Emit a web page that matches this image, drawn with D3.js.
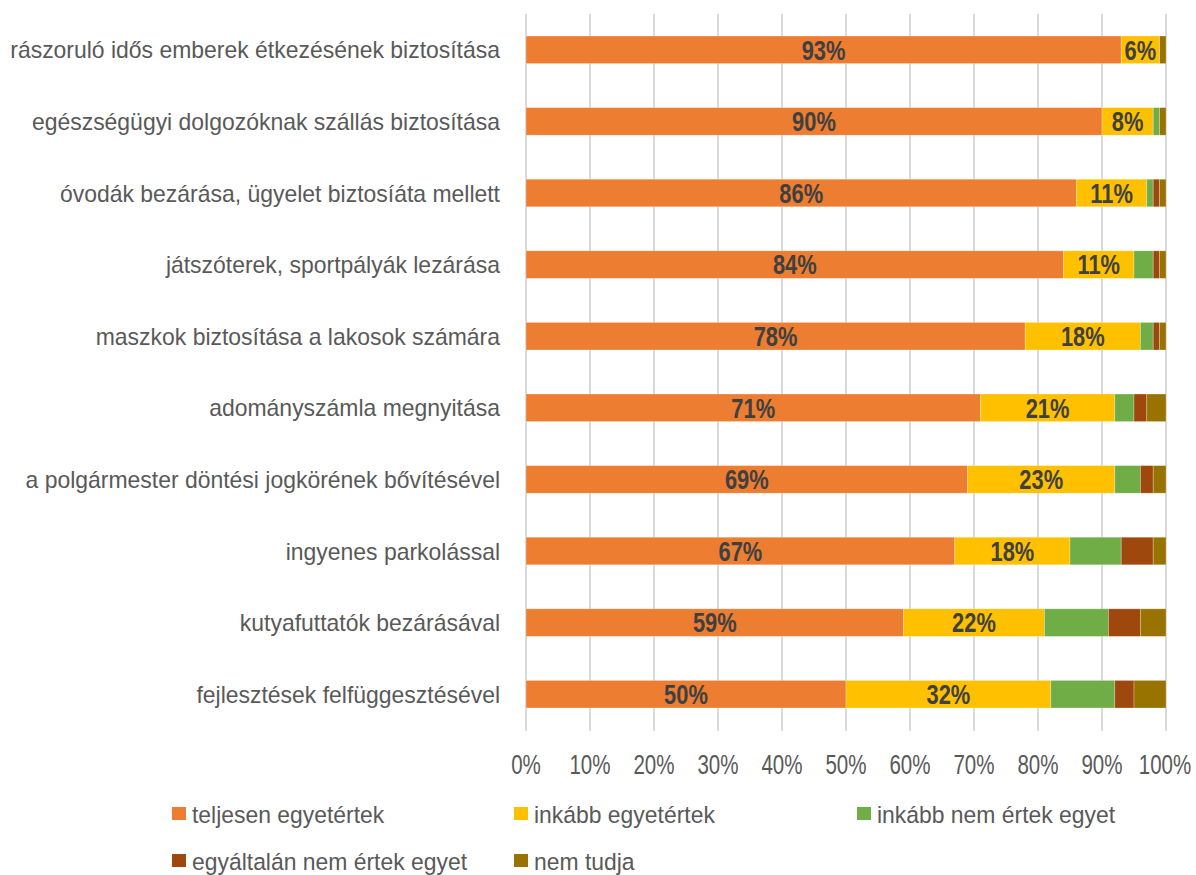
<!DOCTYPE html>
<html>
<head>
<meta charset="utf-8">
<script src="https://cdn.jsdelivr.net/npm/d3@7"></script>
<style>
  body { margin: 0; background: #fff; }
  svg text { font-family: "Liberation Sans", Arial, sans-serif; }
</style>
</head>
<body>
<div id="chart"></div>
<script>
// ---------- data ----------
const categories = [
  'rászoruló idős emberek étkezésének biztosítása',
  'egészségügyi dolgozóknak szállás biztosítása',
  'óvodák bezárása, ügyelet biztosíáta mellett',
  'játszóterek, sportpályák lezárása',
  'maszkok biztosítása a lakosok számára',
  'adományszámla megnyitása',
  'a polgármester döntési jogkörének bővítésével',
  'ingyenes parkolással',
  'kutyafuttatók bezárásával',
  'fejlesztések felfüggesztésével'
]
const seriesNames = ['teljesen egyetértek', 'inkább egyetértek', 'inkább nem értek egyet', 'egyáltalán nem értek egyet', 'nem tudja']
const teljesen   = [93, 90, 86, 84, 78, 71, 69, 67, 59, 50]
const inkabb     = [ 6,  8, 11, 11, 18, 21, 23, 18, 22, 32]
const inkabbNem  = [ 0,  1,  1,  3,  2,  3,  4,  8, 10, 10]
const egyaltalan = [ 0,  0,  1,  1,  1,  2,  2,  5,  5,  3]
const nemTudja   = [ 1,  1,  1,  1,  1,  3,  2,  2,  4,  5]
const xTicks = [0, 10, 20, 30, 40, 50, 60, 70, 80, 90, 100]
const colors = ['#ED7D31', '#FFC000', '#70AD47', '#9E480E', '#997300']
const labelled = [0, 1] // series that show their value

const values = [teljesen, inkabb, inkabbNem, egyaltalan, nemTudja]

//==================== STRUCTURE ====================
const width = 1196, height = 875
const margin = {top: 14, right: 30, bottom: 145, left: 526}

const svg = d3.select('#chart').append('svg')
.attr('width', width)
.attr('height', height)

const x = d3.scaleLinear()
.domain([0, 100])
.range([margin.left, width - margin.right])

const y = d3.scaleBand()
.domain(categories)
.range([margin.top, height - margin.bottom])
.paddingInner(0.615)
.paddingOuter(0.3075)

const rows = categories.map((c, i) => {
  const r = {cat: c}
  seriesNames.forEach((s, j) => r[s] = values[j][i])
  return r
})

const stacked = d3.stack().keys(seriesNames)(rows)

// the original uses a condensed face: squeeze the glyphs horizontally
const condense = (sel, k) => sel.each(function () {
  const w = this.getComputedTextLength()
  d3.select(this)
  .attr('textLength', w * k)
  .attr('lengthAdjust', 'spacingAndGlyphs')
})

//==================== GRID ====================
svg.append('g')
.selectAll('line')
.data(xTicks)
.enter()
.append('line')
.attr('x1', d => x(d))
.attr('x2', d => x(d))
.attr('y1', margin.top)
.attr('y2', height - margin.bottom + 1)
.attr('stroke', '#d9d9d9')
.attr('stroke-width', 2)

//==================== BARS ====================
const layers = svg.append('g')
.selectAll('g')
.data(stacked)
.enter()
.append('g')
.attr('fill', (d, i) => colors[i])

layers.selectAll('rect')
.data(d => d)
.enter()
.append('rect')
.attr('x', d => x(d[0]))
.attr('y', d => y(d.data.cat))
.attr('width', d => x(d[1]) - x(d[0]))
.attr('height', y.bandwidth())
.attr('stroke', '#ffffff')
.attr('stroke-opacity', 0.35)
.attr('stroke-width', 0.75)

// value labels
stacked.forEach((layer, i) => {
  if (!labelled.includes(i)) return
  svg.append('g')
  .selectAll('text')
  .data(layer)
  .enter()
  .append('text')
  .attr('x', d => (x(d[0]) + x(d[1])) / 2)
  .attr('y', d => y(d.data.cat) + y.bandwidth() / 2)
  .attr('dy', '0.36em')
  .attr('text-anchor', 'middle')
  .attr('font-size', 27)
  .attr('font-weight', 'bold')
  .attr('fill', '#404040')
  .text(d => `${d[1] - d[0]}%`)
  .call(condense, 0.81)
})

//==================== AXES ====================
svg.append('g')
.selectAll('text')
.data(categories)
.enter()
.append('text')
.attr('x', margin.left - 26)
.attr('y', d => y(d) + y.bandwidth() / 2)
.attr('dy', '0.36em')
.attr('text-anchor', 'end')
.attr('font-size', 24)
.attr('fill', '#595959')
.text(d => d)
.call(condense, 0.956)

svg.append('g')
.selectAll('text')
.data(xTicks)
.enter()
.append('text')
.attr('x', d => d === 100 ? x(d) - 1 : x(d))
.attr('y', 774)
.attr('text-anchor', 'middle')
.attr('font-size', 28.5)
.attr('fill', '#595959')
.text(d => `${d}%`)
.call(condense, 0.72)

//==================== LEGEND ====================
const legendPos = [[172, 813.5], [514, 813.5], [857, 813.5], [172, 860.5], [514, 860.5]]

const legend = svg.append('g')
.selectAll('g')
.data(seriesNames)
.enter()
.append('g')
.attr('transform', (d, i) => `translate(${legendPos[i]})`)

legend.append('rect')
.attr('x', 0)
.attr('y', -6.5)
.attr('width', 14)
.attr('height', 13)
.attr('fill', (d, i) => colors[i])

legend.append('text')
.attr('x', 20)
.attr('y', 9.5)
.attr('font-size', 24.5)
.attr('fill', '#595959')
.text(d => d)
.call(condense, 0.935)
</script>
</body>
</html>
